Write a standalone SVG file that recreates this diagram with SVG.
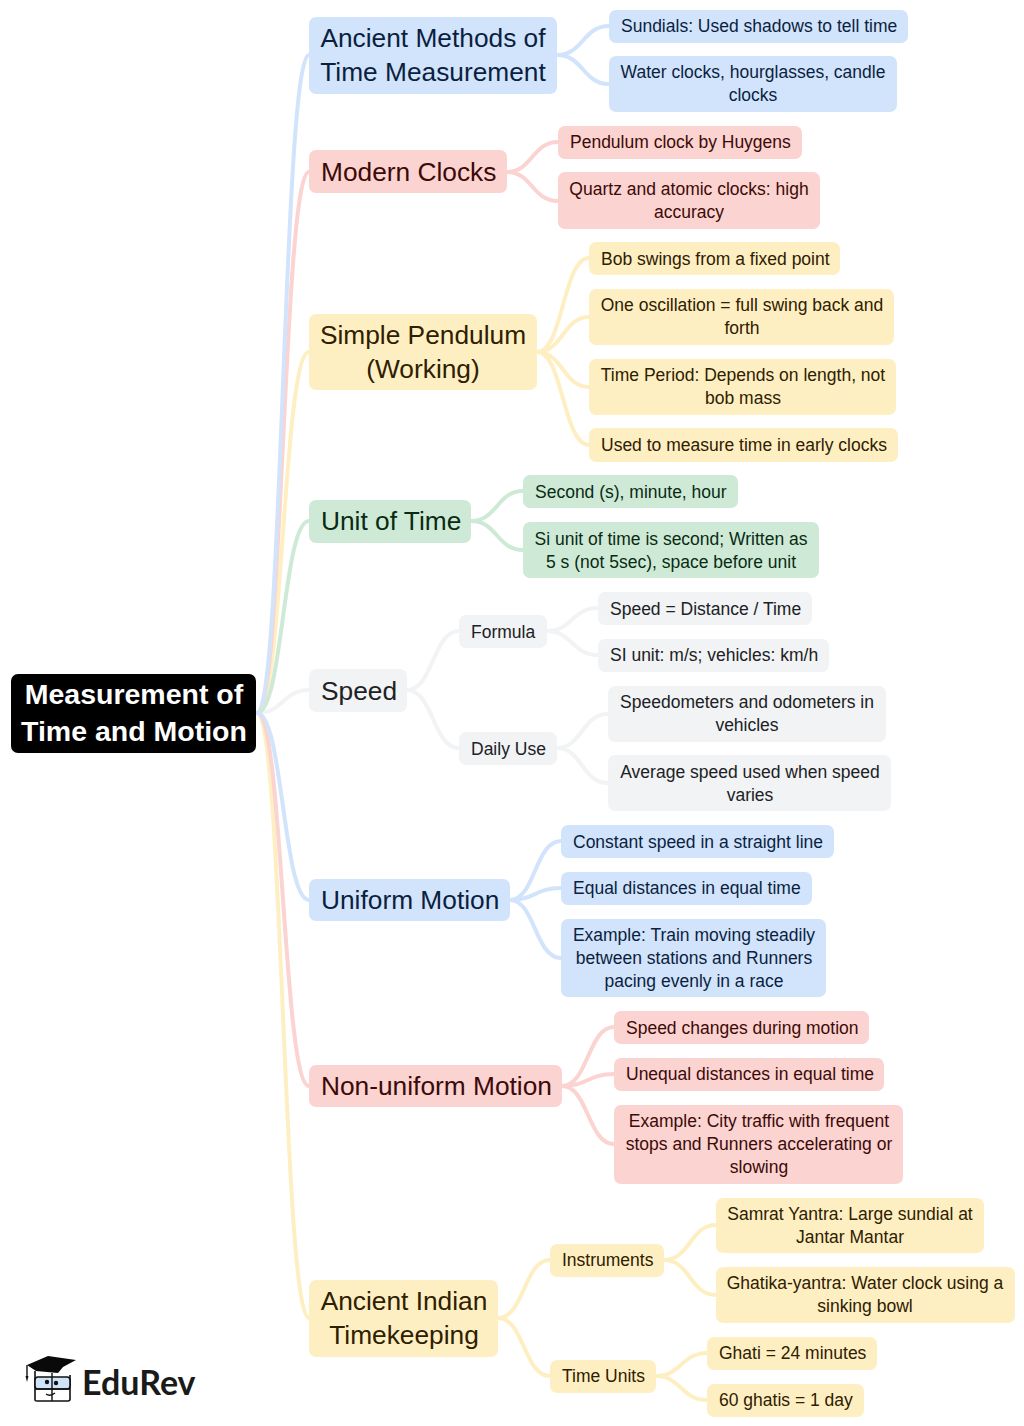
<svg xmlns="http://www.w3.org/2000/svg" width="1024" height="1426" viewBox="0 0 1024 1426">
<style>
text{font-family:"Liberation Sans",Arial,sans-serif}
.l1{font-size:26.300px}.l2{font-size:17.500px}
.m{text-anchor:middle}
.c{fill:none;stroke-width:4;stroke-linecap:round}
.b rect{fill:#d2e3fc}.b text{fill:#0b1f3f}
.r rect{fill:#fbd3d0}.r text{fill:#3c0a08}
.y rect{fill:#feefc3}.y text{fill:#2e2000}
.g rect{fill:#ceead6}.g text{fill:#0a2a14}
.k rect{fill:#f1f3f4}.k text{fill:#202124}
.sb{stroke:#d2e3fc}.sr{stroke:#fbd3d0}.sy{stroke:#feefc3}.sg{stroke:#ceead6}.sk{stroke:#f1f3f4}
</style>
<g id="connectors">
<path class="c sk" d="M257 713C283 713 283 690 309 690"/>
<path class="c sy" d="M257 713C283 713 283 352 309 352"/>
<path class="c sr" d="M257 713C283 713 283 172 309 172"/>
<path class="c sb" d="M257 713C283 713 283 55 309 55"/>
<path class="c sg" d="M257 713C283 713 283 521 309 521"/>
<path class="c sy" d="M257 713C283 713 283 1318 309 1318"/>
<path class="c sr" d="M257 713C283 713 283 1086 309 1086"/>
<path class="c sb" d="M257 713C283 713 283 900 309 900"/>
<path class="c sb" d="M557 55C583 55 583 26 609 26M557 55C583 55 583 84 609 84"/>
<path class="c sr" d="M507 172C532 172 532 142 558 142M507 172C532 172 532 201 558 201"/>
<path class="c sy" d="M537 352C563 352 563 258 589 258M537 352C563 352 563 317 589 317M537 352C563 352 563 387 589 387M537 352C563 352 563 445 589 445"/>
<path class="c sg" d="M471 521C497 521 497 491 523 491M471 521C497 521 497 550 523 550"/>
<path class="c sk" d="M407 690C433 690 433 631 459 631M407 690C433 690 433 748 459 748"/>
<path class="c sk" d="M547 631C572 631 572 608 598 608M547 631C572 631 572 655 598 655"/>
<path class="c sk" d="M557 748C582 748 582 714 608 714M557 748C582 748 582 783 608 783"/>
<path class="c sb" d="M510 900C535 900 535 841 561 841M510 900C535 900 535 888 561 888M510 900C535 900 535 958 561 958"/>
<path class="c sr" d="M562 1086C588 1086 588 1027 614 1027M562 1086C588 1086 588 1074 614 1074M562 1086C588 1086 588 1144 614 1144"/>
<path class="c sy" d="M498 1318C524 1318 524 1260 550 1260M498 1318C524 1318 524 1376 550 1376"/>
<path class="c sy" d="M664 1260C690 1260 690 1225 716 1225M664 1260C690 1260 690 1295 716 1295"/>
<path class="c sy" d="M656 1376C681 1376 681 1353 707 1353M656 1376C681 1376 681 1400 707 1400"/>
</g>
<g id="root"><rect x="11" y="674" width="245" height="79" rx="7" fill="#000"/>
<text x="134" y="704" class="m" font-size="28.500" font-weight="700" fill="#fff">Measurement of</text>
<text x="134" y="741" class="m" font-size="28.500" font-weight="700" fill="#fff">Time and Motion</text></g>

<g id="n1" class="b"><rect x="309" y="17" width="248" height="77" rx="7"/><text class="l1 m" x="433" y="47">Ancient Methods of</text><text class="l1 m" x="433" y="81">Time Measurement</text></g>
<g id="n1a" class="b"><rect x="609" y="10" width="299" height="33" rx="7"/><text class="l2" x="621" y="32">Sundials: Used shadows to tell time</text></g>
<g id="n1b" class="b"><rect x="609" y="56" width="288" height="56" rx="7"/><text class="l2 m" x="753" y="78">Water clocks, hourglasses, candle</text><text class="l2 m" x="753" y="101">clocks</text></g>

<g id="n2" class="r"><rect x="309" y="150" width="198" height="43" rx="7"/><text class="l1" x="321" y="181">Modern Clocks</text></g>
<g id="n2a" class="r"><rect x="558" y="126" width="244" height="33" rx="7"/><text class="l2" x="570" y="148">Pendulum clock by Huygens</text></g>
<g id="n2b" class="r"><rect x="558" y="172" width="262" height="57" rx="7"/><text class="l2 m" x="689" y="195">Quartz and atomic clocks: high</text><text class="l2 m" x="689" y="218">accuracy</text></g>

<g id="n3" class="y"><rect x="309" y="314" width="228" height="76" rx="7"/><text class="l1 m" x="423" y="344">Simple Pendulum</text><text class="l1 m" x="423" y="378">(Working)</text></g>
<g id="n3a" class="y"><rect x="589" y="242" width="251" height="33" rx="7"/><text class="l2" x="601" y="265">Bob swings from a fixed point</text></g>
<g id="n3b" class="y"><rect x="589" y="289" width="305" height="56" rx="7"/><text class="l2 m" x="742" y="311">One oscillation = full swing back and</text><text class="l2 m" x="742" y="334">forth</text></g>
<g id="n3c" class="y"><rect x="589" y="359" width="307" height="56" rx="7"/><text class="l2 m" x="743" y="381">Time Period: Depends on length, not</text><text class="l2 m" x="743" y="404">bob mass</text></g>
<g id="n3d" class="y"><rect x="589" y="428" width="309" height="34" rx="7"/><text class="l2" x="601" y="451">Used to measure time in early clocks</text></g>

<g id="n4" class="g"><rect x="309" y="500" width="162" height="43" rx="7"/><text class="l1" x="321" y="530">Unit of Time</text></g>
<g id="n4a" class="g"><rect x="523" y="475" width="215" height="33" rx="7"/><text class="l2" x="535" y="498">Second (s), minute, hour</text></g>
<g id="n4b" class="g"><rect x="523" y="522" width="296" height="56" rx="7"/><text class="l2 m" x="671" y="545">Si unit of time is second; Written as</text><text class="l2 m" x="671" y="568">5 s (not 5sec), space before unit</text></g>

<g id="n5" class="k"><rect x="309" y="669" width="98" height="43" rx="7"/><text class="l1" x="321" y="700">Speed</text></g>
<g id="n5a" class="k"><rect x="459" y="615" width="88" height="33" rx="7"/><text class="l2" x="471" y="638">Formula</text></g>
<g id="n5b" class="k"><rect x="459" y="732" width="98" height="33" rx="7"/><text class="l2" x="471" y="755">Daily Use</text></g>
<g id="n5a1" class="k"><rect x="598" y="592" width="214" height="33" rx="7"/><text class="l2" x="610" y="615">Speed = Distance / Time</text></g>
<g id="n5a2" class="k"><rect x="598" y="639" width="231" height="33" rx="7"/><text class="l2" x="610" y="661">SI unit: m/s; vehicles: km/h</text></g>
<g id="n5b1" class="k"><rect x="608" y="686" width="278" height="56" rx="7"/><text class="l2 m" x="747" y="708">Speedometers and odometers in</text><text class="l2 m" x="747" y="731">vehicles</text></g>
<g id="n5b2" class="k"><rect x="608" y="755" width="283" height="56" rx="7"/><text class="l2 m" x="750" y="778">Average speed used when speed</text><text class="l2 m" x="750" y="801">varies</text></g>

<g id="n6" class="b"><rect x="309" y="879" width="201" height="42" rx="7"/><text class="l1" x="321" y="909">Uniform Motion</text></g>
<g id="n6a" class="b"><rect x="561" y="825" width="273" height="33" rx="7"/><text class="l2" x="573" y="848">Constant speed in a straight line</text></g>
<g id="n6b" class="b"><rect x="561" y="872" width="251" height="33" rx="7"/><text class="l2" x="573" y="894">Equal distances in equal time</text></g>
<g id="n6c" class="b"><rect x="561" y="919" width="265" height="78" rx="7"/><text class="l2 m" x="694" y="941">Example: Train moving steadily</text><text class="l2 m" x="694" y="964">between stations and Runners</text><text class="l2 m" x="694" y="987">pacing evenly in a race</text></g>

<g id="n7" class="r"><rect x="309" y="1065" width="253" height="42" rx="7"/><text class="l1" x="321" y="1095">Non-uniform Motion</text></g>
<g id="n7a" class="r"><rect x="614" y="1011" width="255" height="33" rx="7"/><text class="l2" x="626" y="1034">Speed changes during motion</text></g>
<g id="n7b" class="r"><rect x="614" y="1058" width="270" height="33" rx="7"/><text class="l2" x="626" y="1080">Unequal distances in equal time</text></g>
<g id="n7c" class="r"><rect x="614" y="1105" width="289" height="79" rx="7"/><text class="l2 m" x="759" y="1127">Example: City traffic with frequent</text><text class="l2 m" x="759" y="1150">stops and Runners accelerating or</text><text class="l2 m" x="759" y="1173">slowing</text></g>

<g id="n8" class="y"><rect x="309" y="1280" width="189" height="77" rx="7"/><text class="l1 m" x="404" y="1310">Ancient Indian</text><text class="l1 m" x="404" y="1344">Timekeeping</text></g>
<g id="n8a" class="y"><rect x="550" y="1244" width="114" height="33" rx="7"/><text class="l2" x="562" y="1266">Instruments</text></g>
<g id="n8b" class="y"><rect x="550" y="1360" width="106" height="33" rx="7"/><text class="l2" x="562" y="1382">Time Units</text></g>
<g id="n8a1" class="y"><rect x="716" y="1198" width="268" height="55" rx="7"/><text class="l2 m" x="850" y="1220">Samrat Yantra: Large sundial at</text><text class="l2 m" x="850" y="1243">Jantar Mantar</text></g>
<g id="n8a2" class="y"><rect x="716" y="1267" width="299" height="56" rx="7"/><text class="l2 m" x="865" y="1289">Ghatika-yantra: Water clock using a</text><text class="l2 m" x="865" y="1312">sinking bowl</text></g>
<g id="n8b1" class="y"><rect x="707" y="1337" width="170" height="33" rx="7"/><text class="l2" x="719" y="1359">Ghati = 24 minutes</text></g>
<g id="n8b2" class="y"><rect x="707" y="1384" width="157" height="33" rx="7"/><text class="l2" x="719" y="1406">60 ghatis = 1 day</text></g>

<g id="logo">
<path d="M35 1371V1400Q35 1401 37 1401H68Q70 1401 70 1399V1375" fill="#fff" stroke="#111" stroke-width="1.6"/>
<rect x="35" y="1377" width="35" height="12" rx="3" fill="#cfe4f7" stroke="#111" stroke-width="1.6"/>
<path d="M52 1373V1401M35 1389H70M46 1394Q50 1397 55 1393" fill="none" stroke="#111" stroke-width="1.4"/>
<circle cx="47" cy="1382" r="2.2" fill="#111"/><circle cx="56" cy="1383" r="2.2" fill="#111"/>
<path d="M27 1365L48 1356L76 1360L63 1367L58 1373L36 1371Z" fill="#0a0a0a"/>
<path d="M27 1365V1378" stroke="#111" stroke-width="1.4" fill="none"/>
<path d="M25.500 1376H28.500L27 1382Z" fill="#111"/>
<text x="82" y="1395" font-size="34" font-weight="700" fill="#1a1a1a" style="font-family:Lato,'Liberation Sans',sans-serif">EduRev</text>
</g>
</svg>
